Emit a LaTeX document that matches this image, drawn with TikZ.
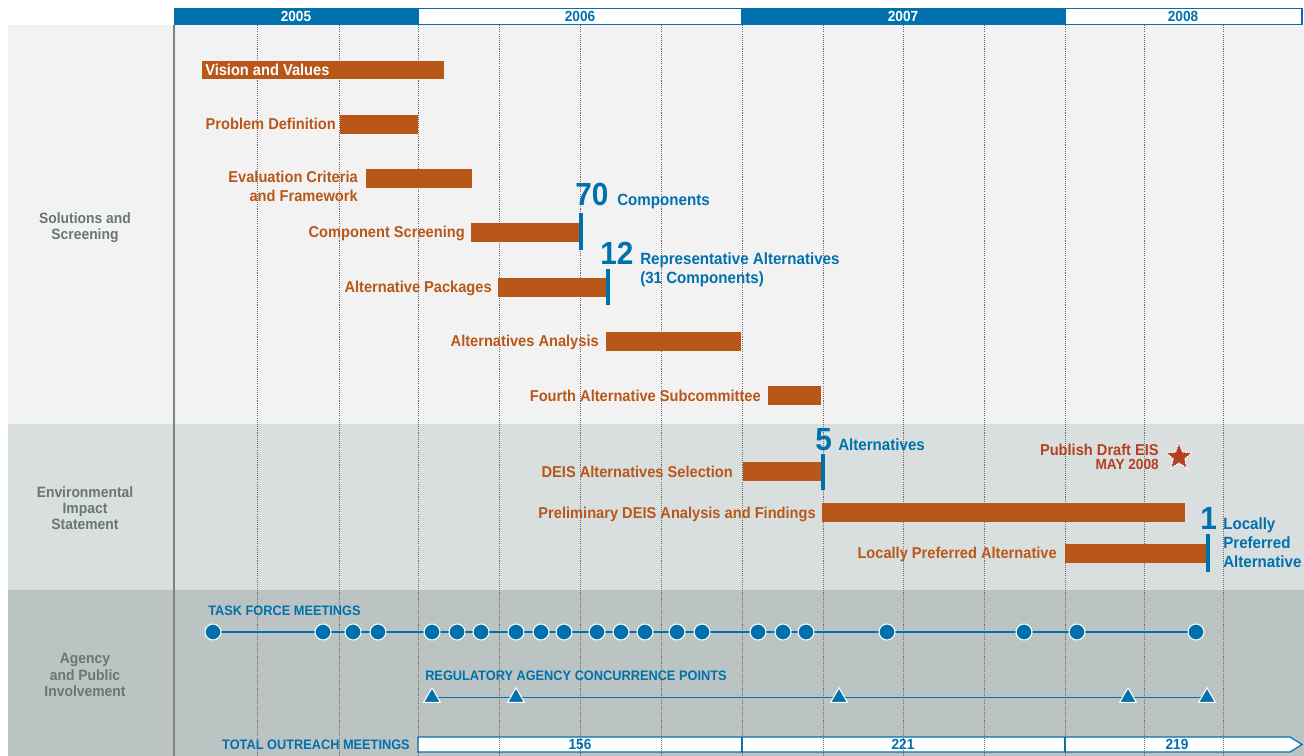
\documentclass[tikz,border=0pt]{standalone}
\usepackage{fontspec}
\setmainfont{Liberation Sans}[FakeStretch=0.93]
\usetikzlibrary{shapes.geometric,fit}
\definecolor{bluec}{RGB}{0,113,173}
\definecolor{barc}{RGB}{185,87,24}
\definecolor{starc}{RGB}{180,64,32}
\definecolor{pa}{RGB}{242,242,242}
\definecolor{pb}{RGB}{217,223,223}
\definecolor{pc}{RGB}{187,196,194}
\definecolor{sidec}{RGB}{104,118,116}
\definecolor{gridc}{RGB}{110,110,110}
\definecolor{sepc}{RGB}{130,130,130}
\pgfdeclarelayer{background}
\pgfdeclarelayer{gridlayer}
\pgfsetlayers{background,gridlayer,main}
\tikzset{
  bar/.style={fill=barc, draw=none, inner sep=0pt},
  blabel/.style={anchor=base east, text=barc, inner sep=0pt, font=\fontsize{11.8}{13}\selectfont\bfseries},
  btext/.style={anchor=base west, text=bluec, inner sep=0pt, font=\fontsize{12.2}{13}\selectfont\bfseries},
  bignum/.style={anchor=base west, text=bluec, inner sep=0pt, font=\fontsize{24}{26}\selectfont\bfseries},
  tickline/.style={draw=bluec, line width=2.4pt},
  side/.style={text=sidec, align=center, inner sep=0pt, font=\fontsize{11.2}{12.2}\selectfont\bfseries},
  capslbl/.style={anchor=base west, text=bluec, inner sep=0pt, font=\fontsize{10.3}{11}\selectfont\bfseries},
  meet/.style={circle, fill=bluec, draw=white, line width=0.8pt, minimum size=12pt, inner sep=0pt},
  concur/.style={regular polygon, regular polygon sides=3, fill=bluec, draw=white, line width=0.8pt, minimum size=14.5pt, inner sep=0pt},
  gridline/.style={draw=gridc, line width=0.5pt, dash pattern=on 0.8pt off 0.8pt},
  tline/.style={draw=bluec, line width=0.9pt},
  yearw/.style={text=white, inner sep=0pt, font=\fontsize{11}{12}\selectfont\bfseries},
  yearb/.style={text=bluec, inner sep=0pt, font=\fontsize{11}{12}\selectfont\bfseries},
  count/.style={anchor=base, text=bluec, inner sep=0pt, font=\fontsize{11}{12}\selectfont\bfseries},
  box/.style={inner sep=0pt, outer sep=0pt}
}
\begin{document}
\begin{tikzpicture}[x=0.75pt,y=-0.75pt]
\useasboundingbox (0,0) rectangle (1304,756);
% ---------- backgrounds ----------
\begin{pgfonlayer}{background}
  \fill[pa] (8,25) rectangle (1304,424);
  \fill[pb] (8,424) rectangle (1304,590);
  \fill[pc] (8,590) rectangle (1304,756);
  \draw[sepc, line width=1.1pt] (174,25) -- (174,756);
  % outreach bar
  \draw[bluec, fill=white, line width=0.9pt] (418,737) -- (1290,737) -- (1302,744.5) -- (1290,752) -- (418,752) -- cycle;
  \draw[bluec, line width=0.9pt] (742,737) -- (742,752);
  \draw[bluec, line width=0.9pt] (1065,737) -- (1065,752);
\end{pgfonlayer}
\begin{pgfonlayer}{gridlayer}
  \foreach \gx in {257,339,418,499,580,661,742,823,903,984,1065,1144,1223}
    \draw[gridline] (\gx,25) -- (\gx,756);
\end{pgfonlayer}
% ---------- header ----------
\node[box, fill=bluec, fit={(174,8) (1302.5,25)}] (hdr) {};
\node[box, fill=white, fit={(419.3,9.3) (740.7,23.7)}] (h2006) {};
\node[box, fill=white, fit={(1066.3,9.3) (1301.2,23.7)}] (h2008) {};
\node[yearw] (t2005) at (296,16.5) {2005};
\node[yearb] (t2006) at (580,16.5) {2006};
\node[yearw] (t2007) at (903,16.5) {2007};
\node[yearb] (t2008) at (1183,16.5) {2008};
% ---------- side labels ----------
\node[side] (s1) at (85,228) {Solutions and\\Screening};
\node[side] (s2) at (85,508) {Environmental\\Impact\\Statement};
\node[side] (s3) at (85,675) {Agency\\and Public\\Involvement};
% ---------- bars ----------
\node[bar, fit={(202,61) (444,79)}] (b1) {};
\node[anchor=base west, text=white, inner sep=0pt, font=\fontsize{11.8}{13}\selectfont\bfseries] (l1) at (205,75.5) {Vision and Values};
\node[bar, fit={(340,115) (418,134)}] (b2) {};
\node[blabel] (l2) at (336,130) {Problem Definition};
\node[bar, fit={(366,169) (472,188)}] (b3) {};
\node[blabel] (l3a) at (358,183) {Evaluation Criteria};
\node[blabel] (l3b) at (358,202) {and Framework};
\node[bar, fit={(471,223) (580,242)}] (b4) {};
\node[blabel] (l4) at (465,238) {Component Screening};
\node[bar, fit={(498,278) (607,297)}] (b5) {};
\node[blabel] (l5) at (492,292.5) {Alternative Packages};
\node[bar, fit={(606,332) (741,351)}] (b6) {};
\node[blabel] (l6) at (599,346.5) {Alternatives Analysis};
\node[bar, fit={(768,386) (821,405)}] (b7) {};
\node[blabel] (l7) at (761,401.5) {Fourth Alternative Subcommittee};
\node[bar, fit={(743,462) (822,481)}] (b8) {};
\node[blabel] (l8) at (733,477.5) {DEIS Alternatives Selection};
\node[bar, fit={(822,503) (1185,522)}] (b9) {};
\node[blabel] (l9) at (816,518) {Preliminary DEIS Analysis and Findings};
\node[bar, fit={(1065,544) (1207,563)}] (b10) {};
\node[blabel] (l10) at (1057,558.5) {Locally Preferred Alternative};
% ---------- milestones ----------
\draw[tickline] (581,213) -- (581,250);
\node[bignum] (n70) at (575,206) {70};
\node[btext] (c70) at (617,206) {Components};
\draw[tickline] (608,269) -- (608,305);
\node[bignum] (n12) at (600,265) {12};
\node[btext] (c12a) at (640,265) {Representative Alternatives};
\node[btext] (c12b) at (640,283) {(31 Components)};
\draw[tickline] (823,454) -- (823,490);
\node[bignum] (n5) at (815,450) {5};
\node[btext] (c5) at (838,450) {Alternatives};
\draw[tickline] (1208,534) -- (1208,572);
\node[bignum] (n1) at (1200,529) {1};
\node[btext] (c1a) at (1223,529) {Locally};
\node[btext] (c1b) at (1223,548) {Preferred};
\node[btext] (c1c) at (1223,567) {Alternative};
\node[anchor=base east, text=starc, inner sep=0pt, font=\fontsize{11.8}{13}\selectfont\bfseries] (pub) at (1159,455) {Publish Draft EIS};
\node[anchor=base east, text=starc, inner sep=0pt, font=\fontsize{11}{12}\selectfont\bfseries] (may) at (1159,469) {MAY 2008};
\node[star, star points=5, star point ratio=2.3, fill=starc, draw=white, line width=0.9pt, dash pattern=on 1.2pt off 0.7pt, minimum size=21pt, inner sep=0pt] (star) at (1179,457) {};
% ---------- task force meetings ----------
\node[capslbl] (tfl) at (208,615) {TASK FORCE MEETINGS};
\foreach \mx [count=\i] in {213,323,353,378,432,457,481,516,541,564,597,621,645,677,702,758,783,806,887,1024,1077,1196}
  \node[meet] (tf\i) at (\mx,632) {};
\begin{pgfonlayer}{gridlayer}
  \draw[tline] (tf1.center) -- (tf22.center);
\end{pgfonlayer}
% ---------- regulatory agency ----------
\node[capslbl] (ral) at (425,680) {REGULATORY AGENCY CONCURRENCE POINTS};
\foreach \rx [count=\i] in {432,516,839,1128,1207}
  \node[concur] (ra\i) at (\rx,697.5) {};
\begin{pgfonlayer}{gridlayer}
  \draw[tline] (ra1.center) -- (ra5.center);
\end{pgfonlayer}
% ---------- outreach ----------
\node[anchor=base east, text=bluec, inner sep=0pt, font=\fontsize{10.3}{11}\selectfont\bfseries] (tol) at (410,749) {TOTAL OUTREACH MEETINGS};
\node[count] (o1) at (580,749) {156};
\node[count] (o2) at (903,749) {221};
\node[count] (o3) at (1177,749) {219};
\end{tikzpicture}
\end{document}
